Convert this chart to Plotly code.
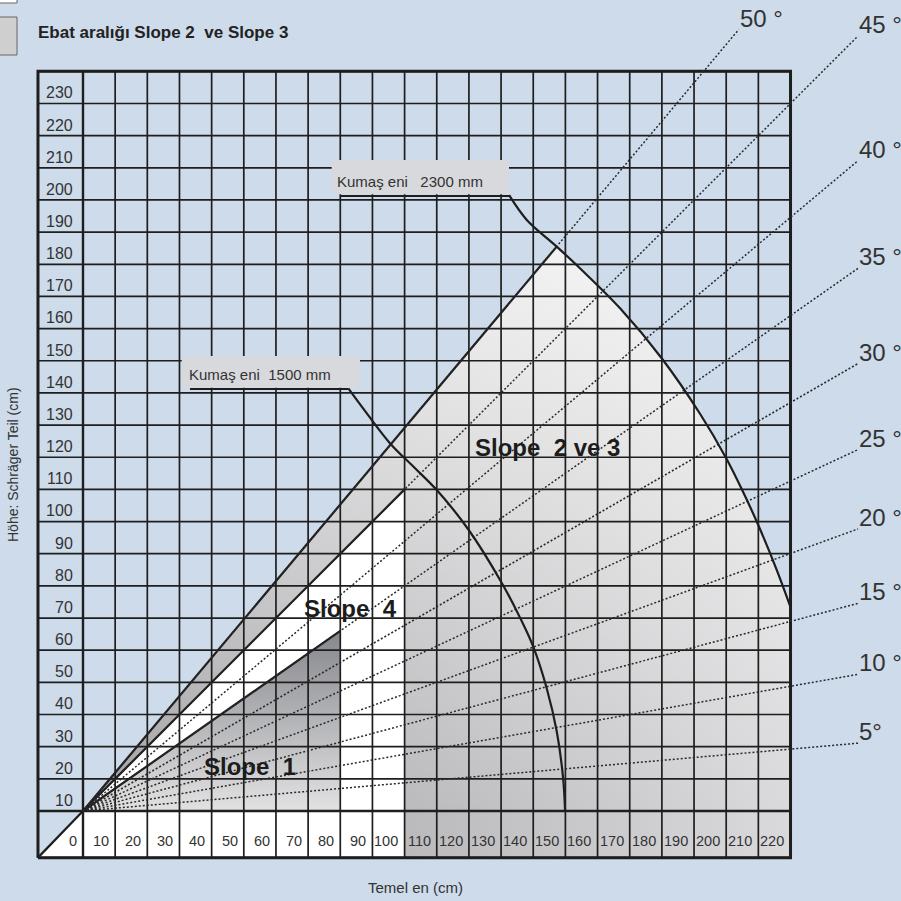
import math
import plotly.graph_objects as go

# ---------------- data ----------------
x_ticks = list(range(0, 230, 10))          # 0 .. 220  (cm, Temel en)
y_ticks = list(range(10, 240, 10))         # 10 .. 230 (cm, Höhe)
x_labels = [str(v) for v in x_ticks]
y_labels = [str(v) for v in y_ticks]

ray_angles = [5, 10, 15, 20, 25, 30, 35, 40, 45, 50]
ray_labels = ["5°", "10 °", "15 °", "20 °", "25 °", "30 °", "35 °", "40 °", "45 °", "50 °"]

# Kumaş eni 1500 mm curve (x, y in cm)
arc1500_x = [82.5, 88.2, 95.5, 102.7, 110.0, 120.0, 130.0, 136.0, 140.0, 144.2, 147.3, 149.3, 149.9]
arc1500_y = [131.4, 123.7, 114.3, 107.1, 99.8, 87.3, 71.3, 59.9, 51.1, 38.1, 24.8, 10.1, 0.0]

# Kumaş eni 2300 mm curve
arc2300_x = [132.5, 138.0, 147.3, 155.0, 167.0, 180.0, 192.0, 200.0, 205.3, 210.5, 215.7, 220.0]
arc2300_y = [191.5, 183.8, 175.5, 168.3, 156.3, 140.7, 123.3, 109.7, 99.1, 87.7, 75.0, 63.4]

# Regions
slope23_x = [0, 147.3, 155.0, 167.0, 180.0, 192.0, 200.0, 205.3, 210.5, 215.7, 220.0, 220.0, 100.0, 100.0, 0]
slope23_y = [0, 175.5, 168.3, 156.3, 140.7, 123.3, 109.7, 99.1, 87.7, 75.0, 63.4, -14.5, -14.5, 0.0, 0]
slope4_x = [0, 100, 100, 0]
slope4_y = [0, 100, 0, 0]
slope1_x = [0, 80, 80, 0]
slope1_y = [0, 56, 0, 0]

# solid boundary lines from the origin
bound_x = [[0, 147.3], [0, 100], [0, 80], [-14, 0]]
bound_y = [[0, 175.5], [0, 100], [0, 56], [-14.5, 0]]

# ---------------- geometry of the canvas ----------------
W = H = 901
S = 3.216            # px per cm
OX, OY = 83.0, 811.0  # pixel position of the origin
XMIN, YMIN, XMAX, YMAX = -14.0, -14.5, 220.0, 230.0


def px(x):
    return x / W


def py(y):
    return 1 - y / H


BG = "#cddbea"
GRID = "#1e1e1e"
REG = "Liberation Sans, Arial, sans-serif"

fig = go.Figure()


def poly(xs, ys, line_shape="linear", **kw):
    fig.add_trace(go.Scatter(x=xs, y=ys, mode="lines", fill="toself",
                             line=dict(width=0, shape=line_shape),
                             hoverinfo="skip", showlegend=False, **kw))


# label row (white) incl. corner triangle
poly([XMIN, 0, 100, 100, XMIN], [YMIN, 0, 0, YMIN, YMIN], fillcolor="white")

# Slope 2 ve 3 region: horizontal gradient + vertical white overlay
poly(slope23_x, slope23_y,
     fillgradient=dict(type="horizontal", start=0, stop=220,
                       colorscale=[[0, "rgb(160,160,163)"], [1, "rgb(218,218,220)"]]))
poly(slope23_x, slope23_y,
     fillgradient=dict(type="vertical", start=0, stop=180,
                       colorscale=[[0, "rgba(255,255,255,0)"], [1, "rgba(255,255,255,0.8)"]]))

# Slope 4 (white)
poly(slope4_x, slope4_y, fillcolor="white")

# Slope 1 (dark vertical gradient)
poly(slope1_x, slope1_y,
     fillgradient=dict(type="vertical", start=0, stop=56,
                       colorscale=[[0, "rgb(226,226,227)"], [1, "rgb(134,135,140)"]]))

# grid lines
gx, gy = [], []
for xv in [XMIN] + list(range(0, 221, 10)):
    gx += [xv, xv, None]
    gy += [YMIN, YMAX, None]
for yv in [YMIN] + list(range(0, 231, 10)):
    gx += [XMIN, XMAX, None]
    gy += [yv, yv, None]
fig.add_trace(go.Scatter(x=gx, y=gy, mode="lines", line=dict(color=GRID, width=1.7),
                         hoverinfo="skip", showlegend=False))

# axis lines and border (thicker)
fig.add_trace(go.Scatter(x=[0, 0, None, XMIN, XMAX], y=[YMIN, YMAX, None, 0, 0], mode="lines",
                         line=dict(color=GRID, width=2.4), hoverinfo="skip", showlegend=False))
fig.add_trace(go.Scatter(x=[XMIN, XMAX, XMAX, XMIN, XMIN], y=[YMIN, YMIN, YMAX, YMAX, YMIN],
                         mode="lines", line=dict(color=GRID, width=3),
                         hoverinfo="skip", showlegend=False))

# solid slope boundaries
for bx, by in zip(bound_x, bound_y):
    fig.add_trace(go.Scatter(x=bx, y=by, mode="lines", line=dict(color=GRID, width=2.2),
                             hoverinfo="skip", showlegend=False))

# dotted angle rays
ray_ends = []
for a in ray_angles:
    t = math.tan(math.radians(a))
    if a < 47:
        xe, ye = 241.0, 241.0 * t
    else:
        ye = 243.0
        xe = ye / t
    ray_ends.append((xe, ye))
    fig.add_trace(go.Scatter(x=[0, xe], y=[0, ye], mode="lines",
                             line=dict(color="#2a2a2a", width=1.5, dash="2px,2px"),
                             hoverinfo="skip", showlegend=False))

# fabric-width curves
for ax_, ay_ in [(arc1500_x, arc1500_y), (arc2300_x, arc2300_y)]:
    fig.add_trace(go.Scatter(x=ax_, y=ay_, mode="lines",
                             line=dict(color=GRID, width=2.2, shape="spline", smoothing=1.0),
                             hoverinfo="skip", showlegend=False))

shapes = []
# label boxes for the fabric widths
for (x0, y0, x1, y1) in [(331.7, 160, 509, 194.3), (181.7, 356, 360, 387.7)]:
    shapes.append(dict(type="rect", xref="paper", yref="paper", x0=px(x0), x1=px(x1),
                       y0=py(y1), y1=py(y0), fillcolor="#d8d9dc", line=dict(width=0), layer="above"))
for (x0, x1, yy) in [(340, 509, 196), (190, 348, 389)]:
    shapes.append(dict(type="line", xref="paper", yref="paper", x0=px(x0), x1=px(x1),
                       y0=py(yy), y1=py(yy), line=dict(color=GRID, width=2), layer="above"))
# small swatch boxes top-left
shapes.append(dict(type="rect", xref="paper", yref="paper", x0=px(-2), x1=px(17), y0=py(3), y1=py(-5),
                   fillcolor="white", line=dict(color="#666", width=1), layer="above"))
shapes.append(dict(type="rect", xref="paper", yref="paper", x0=px(-2), x1=px(17), y0=py(55), y1=py(17),
                   fillcolor="#cfcfcf", line=dict(color="#666", width=1), layer="above"))

ann = []
# y tick labels (left column)
for v, lab in zip(y_ticks, y_labels):
    ann.append(dict(x=-2.6, y=v - 6.7, xref="x", yref="y", text=lab, showarrow=False,
                    xanchor="right", yanchor="middle", font=dict(family=REG, size=16, color="#333")))
# x tick labels (bottom row)
for v, lab in zip(x_ticks, x_labels):
    ann.append(dict(x=v - 1.3, y=-9.3, xref="x", yref="y", text=lab, showarrow=False,
                    xanchor="right", yanchor="middle", font=dict(family=REG, size=14.5, color="#333")))
# angle labels
for (xe, ye), lab in zip(ray_ends, ray_labels):
    ann.append(dict(x=xe, y=ye, xref="x", yref="y", text=lab.replace(" ", "\u00a0"), showarrow=False,
                    xanchor="left", yanchor="bottom", xshift=-1, yshift=-4,
                    font=dict(family=REG, size=24, color="#333")))
# slope labels
for txt, cx, cy in [("Slope\u00a0\u00a02\u00a0ve\u00a03", 547, 448),
                    ("Slope\u00a0\u00a04", 350, 608),
                    ("Slope\u00a0\u00a01", 250, 766)]:
    ann.append(dict(x=px(cx), y=py(cy), xref="paper", yref="paper", text="<b>" + txt + "</b>",
                    showarrow=False, xanchor="center", yanchor="middle",
                    font=dict(family=REG, size=24, color="#1c1c1c")))
# fabric width label texts
ann.append(dict(x=px(335), y=py(181), xref="paper", yref="paper", text="Kumaş eni\u00a0\u00a0 2300 mm",
                showarrow=False, xanchor="left", yanchor="middle", font=dict(family=REG, size=15, color="#333")))
ann.append(dict(x=px(187), y=py(375), xref="paper", yref="paper", text="Kumaş eni\u00a0 1500 mm",
                showarrow=False, xanchor="left", yanchor="middle", font=dict(family=REG, size=15, color="#333")))
# title and axis titles
ann.append(dict(x=px(36), y=py(33), xref="paper", yref="paper",
                text="<b>Ebat aralığı Slope 2\u00a0 ve Slope 3</b>", showarrow=False,
                xanchor="left", yanchor="middle", font=dict(family=REG, size=17, color="#222")))
ann.append(dict(x=px(415), y=py(887), xref="paper", yref="paper", text="Temel en (cm)",
                showarrow=False, xanchor="center", yanchor="middle", font=dict(family=REG, size=15, color="#333")))
ann.append(dict(x=px(13), y=py(465), xref="paper", yref="paper", text="Höhe: Schräger Teil (cm)",
                showarrow=False, xanchor="center", yanchor="middle", textangle=-90,
                font=dict(family=REG, size=14, color="#333")))

fig.update_layout(
    width=W, height=H, autosize=False,
    margin=dict(l=0, r=0, t=0, b=0, pad=0),
    paper_bgcolor=BG, plot_bgcolor=BG,
    xaxis=dict(range=[-OX / S, (W - OX) / S], visible=False, fixedrange=True),
    yaxis=dict(range=[(OY - H) / S, OY / S], visible=False, fixedrange=True),
    shapes=shapes, annotations=ann, showlegend=False,
)

fig.write_html("out.html", config={"displayModeBar": False},
               post_script="document.body.style.margin='0';")
